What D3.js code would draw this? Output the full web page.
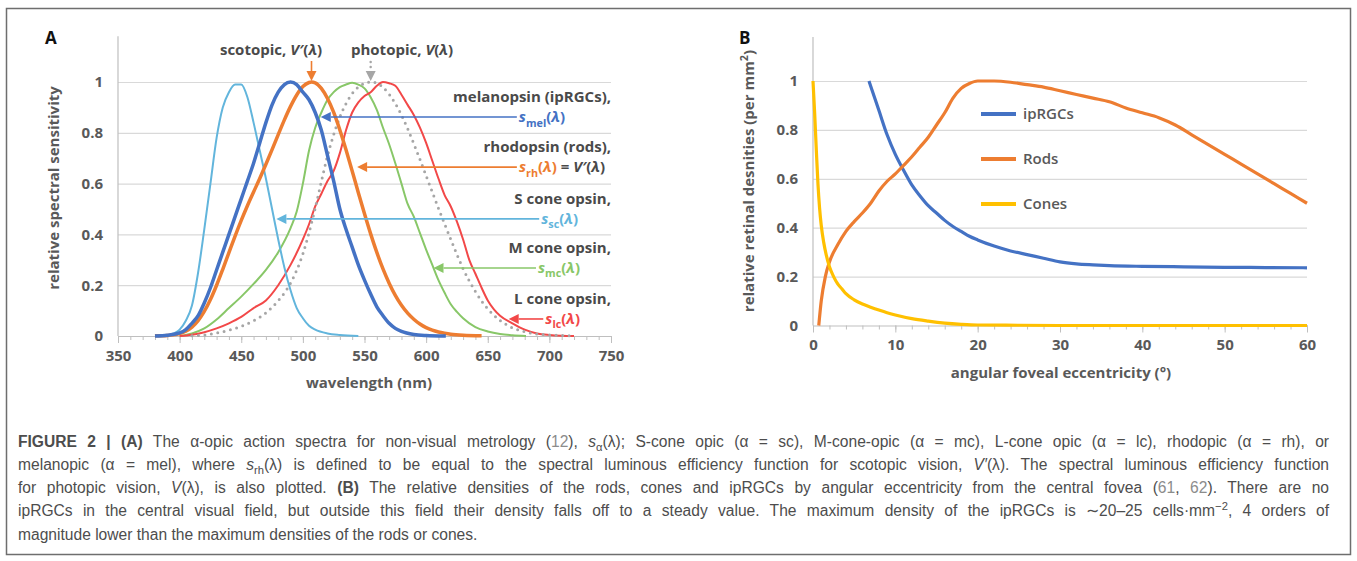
<!DOCTYPE html>
<html>
<head>
<meta charset="utf-8">
<title>Figure 2</title>
<style>
  body { margin: 0; background: #fff; }
  svg { display: block; }
</style>
</head>
<body>
<svg id="chart" width="1357" height="561"></svg>
<script src="https://d3js.org/d3.v7.min.js"></script>
<script>
// ---- panel A: relative spectral sensitivity, [wavelength nm, value]
let sConeData = [[390,0],[395,0.01],[400,0.025],[405,0.06],[410,0.12],[415,0.25],[420,0.42],[425,0.6],[430,0.78],
    [435,0.9],[440,0.96],[445,0.99],[450,0.99],[455,0.94],[460,0.84],[465,0.73],[470,0.62],[475,0.5],[480,0.38],
    [485,0.27],[490,0.18],[495,0.11],[500,0.07],[505,0.04],[510,0.025],[520,0.01],[530,0.004],[545,0]]
let melanopsinData = [[380,0],[390,0.003],[400,0.012],[405,0.025],[410,0.05],[415,0.08],[420,0.13],[425,0.19],
    [430,0.26],[435,0.33],[440,0.4],[445,0.47],[450,0.54],[455,0.61],[460,0.68],[465,0.76],[470,0.84],[475,0.91],
    [480,0.96],[485,0.99],[490,1],[495,0.99],[500,0.96],[505,0.93],[510,0.88],[515,0.81],[520,0.71],[525,0.61],
    [530,0.5],[535,0.42],[540,0.35],[545,0.28],[550,0.22],[555,0.165],[560,0.115],[565,0.08],[570,0.05],
    [575,0.03],[580,0.018],[590,0.006],[600,0.002],[616,0]]
let rhodopsinData = [[380,0.0006],[385,0.0011],[390,0.0022],[395,0.0045],[400,0.0093],[405,0.0185],[410,0.0348],
    [415,0.0604],[420,0.0966],[425,0.1436],[430,0.1998],[435,0.2625],[440,0.3281],[445,0.3931],[450,0.455],
    [455,0.513],[460,0.567],[465,0.62],[470,0.676],[475,0.734],[480,0.793],[485,0.851],[490,0.904],[495,0.949],
    [500,0.982],[505,0.998],[507,1],[510,0.997],[515,0.975],[520,0.935],[525,0.88],[530,0.811],[535,0.733],
    [540,0.65],[545,0.564],[550,0.481],[555,0.402],[560,0.329],[565,0.264],[570,0.208],[575,0.16],[580,0.121],
    [585,0.09],[590,0.066],[595,0.047],[600,0.033],[605,0.023],[610,0.016],[615,0.011],[620,0.007],[630,0.003],
    [645,0.001]]
let mConeData = [[400,0],[410,0.01],[420,0.03],[430,0.065],[440,0.11],[450,0.155],[460,0.205],[470,0.26],
    [480,0.33],[490,0.425],[495,0.49],[500,0.6],[505,0.73],[510,0.82],[515,0.88],[520,0.93],[525,0.96],[530,0.98],
    [535,0.99],[540,0.997],[545,0.99],[550,0.975],[555,0.94],[560,0.89],[565,0.82],[570,0.755],[575,0.68],[580,0.6],
    [585,0.52],[590,0.47],[595,0.405],[600,0.34],[605,0.28],[610,0.22],[615,0.17],[620,0.125],[625,0.095],
    [630,0.07],[640,0.035],[650,0.018],[660,0.008],[670,0.003],[681,0]]
let lConeData = [[400,0],[410,0.005],[420,0.015],[430,0.03],[440,0.05],[450,0.075],[460,0.11],[470,0.14],[480,0.2],
    [490,0.28],[500,0.38],[505,0.44],[510,0.51],[515,0.56],[520,0.61],[525,0.65],[530,0.72],[535,0.81],[540,0.88],
    [545,0.92],[550,0.945],[555,0.96],[560,0.985],[565,1],[570,0.995],[575,0.985],[580,0.95],[585,0.91],[590,0.87],
    [595,0.82],[600,0.76],[605,0.69],[610,0.62],[615,0.555],[620,0.51],[625,0.45],[630,0.38],[635,0.3],[640,0.245],
    [645,0.19],[650,0.14],[655,0.105],[660,0.08],[670,0.05],[680,0.025],[690,0.01],[700,0.004],[710,0.001],[720,0]]
let photopicData = [[410,0.0012],[420,0.004],[430,0.0116],[440,0.023],[450,0.038],[460,0.06],[470,0.091],
    [480,0.139],[485,0.169],[490,0.208],[495,0.259],[500,0.323],[505,0.407],[510,0.503],[515,0.608],[520,0.71],
    [525,0.793],[530,0.862],[535,0.915],[540,0.954],[545,0.98],[550,0.995],[555,1],[560,0.995],[565,0.979],
    [570,0.952],[575,0.915],[580,0.87],[585,0.816],[590,0.757],[595,0.695],[600,0.631],[605,0.567],[610,0.503],
    [615,0.441],[620,0.381],[625,0.321],[630,0.265],[635,0.217],[640,0.175],[645,0.138],[650,0.107],[655,0.082],
    [660,0.061],[665,0.045],[670,0.032],[680,0.017],[690,0.008],[700,0.004],[710,0.002],[720,0.001]]
let scotopicPeak = 507
let photopicPeak = 555
let xTicksA = [350,400,450,500,550,600,650,700,750]
let yTicks = [0,0.2,0.4,0.6,0.8,1]
let yTickLabels = ["0","0.2","0.4","0.6","0.8","1"]

// ---- panel B: relative retinal densities, [eccentricity deg, value]
let ipRGCData = [[6.8,1],[7,0.98],[8,0.88],[9,0.78],[10,0.7],[11,0.635],[12,0.575],[13,0.53],[14,0.49],[15,0.46],
    [16,0.43],[17,0.405],[18,0.385],[19,0.365],[20,0.35],[22,0.325],[24,0.305],[26,0.29],[28,0.275],[30,0.26],
    [32,0.252],[34,0.248],[36,0.245],[40,0.242],[45,0.24],[50,0.238],[55,0.237],[60,0.236]]
let rodsData = [[0.7,0],[1,0.1],[1.5,0.2],[2,0.26],[3,0.33],[4,0.385],[5,0.425],[6,0.46],[7,0.5],[8,0.55],[9,0.59],
    [10,0.62],[11,0.655],[12,0.69],[13,0.73],[14,0.77],[15,0.82],[16,0.87],[17,0.93],[18,0.97],[19,0.99],[20,1],
    [22,1],[24,0.995],[26,0.985],[28,0.975],[30,0.96],[32,0.945],[34,0.93],[36,0.915],[38,0.89],[40,0.87],[42,0.85],
    [44,0.82],[46,0.78],[48,0.74],[50,0.7],[52,0.66],[54,0.62],[56,0.58],[58,0.54],[60,0.5]]
let conesData = [[0,1],[0.2,0.87],[0.4,0.72],[0.6,0.58],[0.8,0.48],[1,0.41],[1.3,0.34],[1.6,0.29],[2,0.24],[2.5,0.2],
    [3,0.17],[3.5,0.15],[4,0.13],[5,0.105],[6,0.088],[7,0.075],[8,0.063],[9,0.052],[10,0.043],[12,0.028],[14,0.018],
    [16,0.01],[18,0.005],[20,0.002],[25,0.001],[30,0],[60,0]]
let xTicksB = [0,10,20,30,40,50,60]
let legendB = ["ipRGCs","Rods","Cones"]

// ---- caption lines (segments: b bold, i italic, sub/sup, c colour)
let linkGrey = "#8c8c8c"
let captionLines = [
    [{t:"FIGURE 2 | (A)",b:1},{t:" The α-opic action spectra for non-visual metrology ("},{t:"12",c:linkGrey},{t:"), "},
     {t:"s",i:1},{t:"α",sub:1},{t:"(λ); S-cone opic (α = sc), M-cone-opic (α = mc), L-cone opic (α = lc), rhodopic (α = rh), or"}],
    [{t:"melanopic (α = mel), where "},{t:"s",i:1},{t:"rh",sub:1},
     {t:"(λ) is defined to be equal to the spectral luminous efficiency function for scotopic vision, "},{t:"V′",i:1},
     {t:"(λ). The spectral luminous efficiency function"}],
    [{t:"for photopic vision, "},{t:"V",i:1},{t:"(λ), is also plotted. "},{t:"(B)",b:1},
     {t:" The relative densities of the rods, cones and ipRGCs by angular eccentricity from the central fovea ("},
     {t:"61",c:linkGrey},{t:", "},{t:"62",c:linkGrey},{t:"). There are no"}],
    [{t:"ipRGCs in the central visual field, but outside this field their density falls off to a steady value. The maximum density of the ipRGCs is ∼20–25 cells·mm"},
     {t:"−2",sup:1},{t:", 4 orders of"}],
    [{t:"magnitude lower than the maximum densities of the rods or cones."}]
]

let font = "'Open Sans', Lato, sans-serif"
let textGrey = "#595959"
let darkGrey = "#4a4a4a"
let gridGrey = "#d9d9d9"
let axisGrey = "#bfbfbf"
let cBlue = "#4472c4", cOrange = "#ed7d31", cSky = "#62b5dc", cGreen = "#88c768", cRed = "#f24848",
    cGreyDot = "#a6a6a6", cYellow = "#ffc000"

let svg = d3.select("#chart")

// outer frame
svg.append("rect").attr("x",6.5).attr("y",8.5).attr("width",1344).attr("height",546)
    .attr("fill","none").attr("stroke","#6e6e6e").attr("stroke-width",1.5)

function rich(sel, parts, fs) {
    let shift = 0
    parts.forEach(p => {
        let ts = sel.append("tspan").text(p.t)
        let target = p.sub ? fs * 0.3 : p.sup ? -fs * 0.4 : 0
        if (target !== shift) { ts.attr("dy", target - shift); shift = target }
        if (p.i) ts.attr("font-style","italic")
        if (p.b) ts.attr("font-weight","bold")
        if (p.c) ts.attr("fill",p.c)
        if (p.sub || p.sup) ts.attr("font-size", fs * 0.72)
    })
}

function arrow(g, x1, y1, x2, y2, color, dotted) {
    let ang = Math.atan2(y2 - y1, x2 - x1)
    let hl = 10, hw = 5
    let bx = x2 - hl * Math.cos(ang), by = y2 - hl * Math.sin(ang)
    let ln = g.append("line").attr("x1",x1).attr("y1",y1).attr("x2",bx).attr("y2",by)
        .attr("stroke",color).attr("stroke-width", dotted ? 2.5 : 1.6)
    if (dotted) ln.attr("stroke-dasharray","0 5").attr("stroke-linecap","round")
    let px = -Math.sin(ang), py = Math.cos(ang)
    g.append("path")
        .attr("d", `M${x2},${y2}L${bx + px*hw},${by + py*hw}L${bx - px*hw},${by - py*hw}Z`)
        .attr("fill",color)
}

function drawAxes(g, x, y, xTicks, minorStep, yTop) {
    let [x0, x1] = x.range()
    g.append("g").attr("transform",`translate(${x0},0)`)
        .call(d3.axisLeft(y).tickValues(yTicks.slice(1)).tickSize(-(x1 - x0)).tickFormat(""))
        .call(s => s.select(".domain").remove())
        .call(s => s.selectAll("line").attr("stroke",gridGrey).attr("stroke-width",1.2))
    g.append("line").attr("x1",x0).attr("x2",x0).attr("y1",y(0)).attr("y2",y(yTop))
        .attr("stroke",axisGrey).attr("stroke-width",1.2)
    g.append("g").attr("transform",`translate(${x0},0)`)
        .call(d3.axisLeft(y).tickValues(yTicks).tickSize(0).tickPadding(15).tickFormat((d,i) => yTickLabels[i]))
        .call(s => s.select(".domain").remove())
        .call(s => s.selectAll("text").attr("font-family",font).attr("font-size",15)
            .attr("font-weight","bold").attr("fill",textGrey))
    let d = x.domain()
    g.append("g").attr("transform",`translate(0,${y(0)})`)
        .call(d3.axisBottom(x).tickValues(d3.range(d[0], d[1] + 0.001, minorStep)).tickSize(4).tickSizeOuter(0).tickFormat(""))
        .call(s => s.select(".domain").attr("stroke",axisGrey).attr("stroke-width",1.2))
        .call(s => s.selectAll("line").attr("stroke",axisGrey))
    g.append("g").attr("transform",`translate(0,${y(0)})`)
        .call(d3.axisBottom(x).tickValues(xTicks).tickSize(7).tickPadding(7).tickSizeOuter(0))
        .call(s => s.select(".domain").remove())
        .call(s => s.selectAll("line").attr("stroke",axisGrey))
        .call(s => s.selectAll("text").attr("font-family",font).attr("font-size",15)
            .attr("font-weight","bold").attr("fill",textGrey))
}

// ================= panel A =================
let xA = d3.scaleLinear().domain([350,750]).range([118,611])
let yA = d3.scaleLinear().domain([0,1]).range([336,82])
let gA = svg.append("g")
drawAxes(gA, xA, yA, xTicksA, 10, 1.18)

let lineA = d3.line().x(d => xA(d[0])).y(d => yA(d[1])).curve(d3.curveMonotoneX)
let seriesA = [
    {data: mConeData, color: cGreen, w: 2},
    {data: lConeData, color: cRed, w: 2},
    {data: photopicData, color: cGreyDot, w: 3, dotted: true},
    {data: sConeData, color: cSky, w: 2},
    {data: rhodopsinData, color: cOrange, w: 3.5},
    {data: melanopsinData, color: cBlue, w: 3.5}
]
seriesA.forEach(s => {
    let p = gA.append("path").attr("d", lineA(s.data)).attr("fill","none")
        .attr("stroke", s.color).attr("stroke-width", s.w).attr("stroke-linejoin","round")
    if (s.dotted) p.attr("stroke-dasharray","0 6.5").attr("stroke-linecap","round")
})

gA.append("text").attr("x",45).attr("y",44).text("A").attr("font-family",font)
    .attr("font-size",17).attr("font-weight","bold").attr("fill","#111")
gA.append("text").attr("transform","translate(59,188) rotate(-90)").attr("text-anchor","middle")
    .attr("font-family",font).attr("font-size",15).attr("font-weight","bold").attr("fill",textGrey)
    .text("relative spectral sensitivity")
gA.append("text").attr("x",369).attr("y",388).attr("text-anchor","middle")
    .attr("font-family",font).attr("font-size",15).attr("font-weight","bold").attr("fill",textGrey)
    .text("wavelength (nm)")

// top labels and arrows to the two peaks
let topLab = [
    {cx: 271, parts: [{t:"scotopic, "},{t:"V′",i:1},{t:"("},{t:"λ",i:1},{t:")"}]},
    {cx: 402, parts: [{t:"photopic, "},{t:"V",i:1},{t:"("},{t:"λ",i:1},{t:")"}]}
]
topLab.forEach(l => {
    let t = gA.append("text").attr("x",l.cx).attr("y",55).attr("text-anchor","middle")
        .attr("font-family",font).attr("font-size",15).attr("font-weight","bold").attr("fill",darkGrey)
    rich(t, l.parts, 15)
})
arrow(gA, xA(scotopicPeak), 61, xA(scotopicPeak), yA(1) - 1, cOrange, false)
arrow(gA, xA(photopicPeak), 62, xA(photopicPeak), yA(1) - 1, cGreyDot, true)

// right-hand labels with arrows pointing at curves
let sideLab = [
    {name:"melanopsin (ipRGCs),", parts:[{t:"s",i:1},{t:"mel",sub:1},{t:"("},{t:"λ",i:1},{t:")"}],
     color:cBlue, level:0.862, tip:514.5, right:565},
    {name:"rhodopsin (rods),", parts:[{t:"s",i:1},{t:"rh",sub:1},{t:"("},{t:"λ",i:1},{t:")"},
        {t:" = ",c:darkGrey},{t:"V′",i:1,c:darkGrey},{t:"(",c:darkGrey},{t:"λ",i:1,c:darkGrey},{t:")",c:darkGrey}],
     color:cOrange, level:0.665, tip:544, right:605},
    {name:"S cone opsin,", parts:[{t:"s",i:1},{t:"sc",sub:1},{t:"("},{t:"λ",i:1},{t:")"}],
     color:cSky, level:0.461, tip:478.5, right:578},
    {name:"M cone opsin,", parts:[{t:"s",i:1},{t:"mc",sub:1},{t:"("},{t:"λ",i:1},{t:")"}],
     color:cGreen, level:0.268, tip:606, right:580},
    {name:"L cone opsin,", parts:[{t:"s",i:1},{t:"lc",sub:1},{t:"("},{t:"λ",i:1},{t:")"}],
     color:cRed, level:0.067, tip:667, right:580}
]
sideLab.forEach(l => {
    let y = yA(l.level)
    gA.append("text").attr("x",xA(750)).attr("y",y - 15).attr("text-anchor","end")
        .attr("font-family",font).attr("font-size",15).attr("font-weight","bold").attr("fill",darkGrey)
        .text(l.name)
    let t = gA.append("text").attr("x",l.right).attr("y",y + 5).attr("text-anchor","end")
        .attr("font-family",font).attr("font-size",15).attr("font-weight","bold").attr("fill",l.color)
    rich(t, l.parts, 15)
    let bb = t.node().getBBox()
    arrow(gA, bb.x - 2, y, xA(l.tip), y, l.color, false)
})

// ================= panel B =================
let xB = d3.scaleLinear().domain([0,60]).range([813,1307])
let yB = d3.scaleLinear().domain([0,1]).range([325.5,81])
let gB = svg.append("g")
drawAxes(gB, xB, yB, xTicksB, 2, 1.18)

let lineB = d3.line().x(d => xB(d[0])).y(d => yB(d[1])).curve(d3.curveMonotoneX)
let seriesB = [
    {data: ipRGCData, color: cBlue},
    {data: rodsData, color: cOrange},
    {data: conesData, color: cYellow}
]
seriesB.forEach(s => {
    gB.append("path").attr("d", lineB(s.data)).attr("fill","none")
        .attr("stroke", s.color).attr("stroke-width", 3.2).attr("stroke-linejoin","round")
})
seriesB.forEach((s, i) => {
    let y = 114 + i * 45
    gB.append("line").attr("x1",981).attr("x2",1016).attr("y1",y).attr("y2",y)
        .attr("stroke",s.color).attr("stroke-width",4)
    gB.append("text").attr("x",1023).attr("y",y + 5).text(legendB[i])
        .attr("font-family",font).attr("font-size",15).attr("font-weight",600).attr("fill",textGrey)
})

gB.append("text").attr("x",739).attr("y",44).text("B").attr("font-family",font)
    .attr("font-size",17).attr("font-weight","bold").attr("fill","#111")
let yLabB = gB.append("text").attr("transform","translate(754,181) rotate(-90)").attr("text-anchor","middle")
    .attr("font-family",font).attr("font-size",15).attr("font-weight","bold").attr("fill",textGrey)
rich(yLabB, [{t:"relative retinal desnities (per mm"},{t:"2",sup:1},{t:")"}], 15)
gB.append("text").attr("x",1061).attr("y",378).attr("text-anchor","middle")
    .attr("font-family",font).attr("font-size",15).attr("font-weight","bold").attr("fill",textGrey)
    .text("angular foveal eccentricity (°)")

// ================= caption =================
let capLeft = 18, capRight = 1329
captionLines.forEach((parts, i) => {
    let t = svg.append("text").attr("x",capLeft).attr("y",446.5 + i * 23.3)
        .attr("font-family","'Liberation Sans Narrow', 'Liberation Sans', Arial, sans-serif")
        .attr("font-size",15.6).attr("fill","#4d4d4d")
    rich(t, parts, 15.6)
    if (i < captionLines.length - 1) {
        let len = t.node().getComputedTextLength()
        let spaces = parts.map(p => p.t).join("").split(" ").length - 1
        t.attr("word-spacing", (capRight - capLeft - len) / spaces)
    }
})
</script>
</body>
</html>
